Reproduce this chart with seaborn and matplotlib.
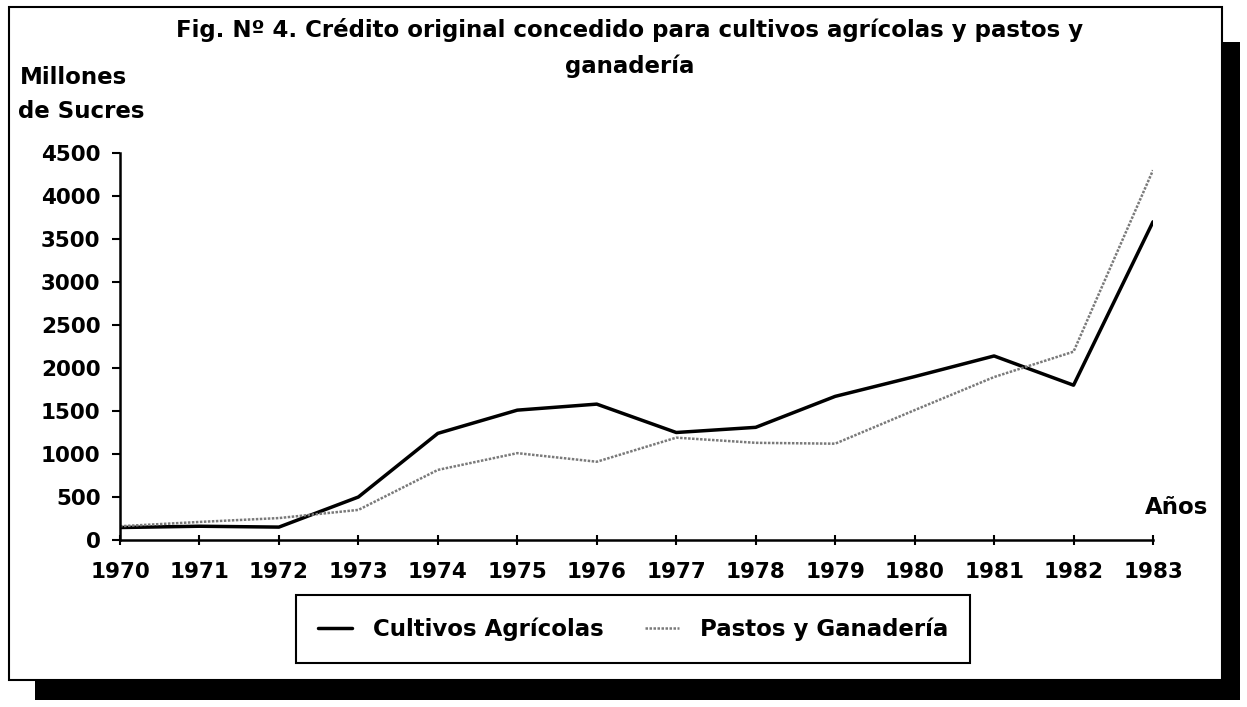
import numpy as np
import pandas as pd
import matplotlib.pyplot as plt
import seaborn as sns
from matplotlib.patches import Rectangle

years = list(range(1970, 1984))
cultivos = [145, 160, 150, 500, 1240, 1510, 1580, 1250, 1310, 1670, 1900, 2140, 1800, 3700]
pastos = [160, 210, 255, 350, 815, 1010, 910, 1190, 1130, 1120, 1510, 1895, 2190, 4300]
y_ticks = [0, 500, 1000, 1500, 2000, 2500, 3000, 3500, 4000, 4500]

sns.set_style('white')
plt.rcParams['font.family'] = ['DejaVu Sans']
plt.rcParams['text.color'] = 'black'
plt.rcParams['xtick.color'] = 'black'
plt.rcParams['ytick.color'] = 'black'
fs = 16.5
tfs = 15.5

df = pd.DataFrame({'Año': years, 'Cultivos Agrícolas': cultivos, 'Pastos y Ganadería': pastos})

fig = plt.figure(figsize=(12.47, 7.07), dpi=100)

# frame with drop shadow
fig.patches.append(Rectangle((0.028, 0.01), 0.966, 0.93, transform=fig.transFigure,
                             facecolor='black', edgecolor='none', zorder=-3))
fig.patches.append(Rectangle((0.007, 0.038), 0.973, 0.952, transform=fig.transFigure,
                             facecolor='white', edgecolor='black', lw=1.5, zorder=-2))

ax = fig.add_axes([120 / 1247, 1 - 540 / 707, (1153 - 120) / 1247, (540 - 153) / 707])
ax.set_facecolor('none')
ax.set_zorder(2)

sns.lineplot(data=df, x='Año', y='Cultivos Agrícolas', color='black', lw=2.5,
             label='Cultivos Agrícolas', ax=ax)
sns.lineplot(data=df, x='Año', y='Pastos y Ganadería', color='#7a7a7a', lw=1.8,
             ls=(0, (1, 0.6)), label='Pastos y Ganadería', ax=ax)

ax.set_xlim(1970, 1983)
ax.set_ylim(0, 4500)
ax.set_xticks(years)
ax.set_yticks(y_ticks)
ax.tick_params(bottom=True, left=True, labelsize=tfs, width=1.5)
ax.tick_params(axis='x', direction='inout', length=7, pad=12)
ax.tick_params(axis='y', direction='out', length=6, pad=8)
for lab in ax.get_xticklabels() + ax.get_yticklabels():
    lab.set_fontweight('bold')
ax.set_xlabel('')
ax.set_ylabel('')
for s in ['top', 'right']:
    ax.spines[s].set_visible(False)
for s in ['left', 'bottom']:
    ax.spines[s].set_linewidth(1.8)
    ax.spines[s].set_color('black')

leg = ax.legend(loc='center', bbox_to_anchor=(633 / 1247, 1 - 629 / 707),
                bbox_transform=fig.transFigure, ncol=2, fontsize=fs, frameon=True,
                fancybox=False, edgecolor='black', framealpha=1, handlelength=1.5,
                columnspacing=1.8, borderpad=0.95, handletextpad=0.9)
leg.get_frame().set_linewidth(1.5)
for t in leg.get_texts():
    t.set_fontweight('bold')

fig.text(630 / 1247, 1 - 30 / 707, 'Fig. Nº 4. Crédito original concedido para cultivos agrícolas y pastos y',
         ha='center', va='center', fontsize=fs, fontweight='bold')
fig.text(630 / 1247, 1 - 66 / 707, 'ganadería', ha='center', va='center', fontsize=fs, fontweight='bold')
fig.text(20 / 1247, 1 - 78 / 707, 'Millones', ha='left', va='center', fontsize=fs, fontweight='bold')
fig.text(18 / 1247, 1 - 112 / 707, 'de Sucres', ha='left', va='center', fontsize=fs, fontweight='bold')
fig.text(1177 / 1247, 1 - 508 / 707, 'Años', ha='center', va='center', fontsize=fs, fontweight='bold')

fig.savefig('out.png', dpi=100)
